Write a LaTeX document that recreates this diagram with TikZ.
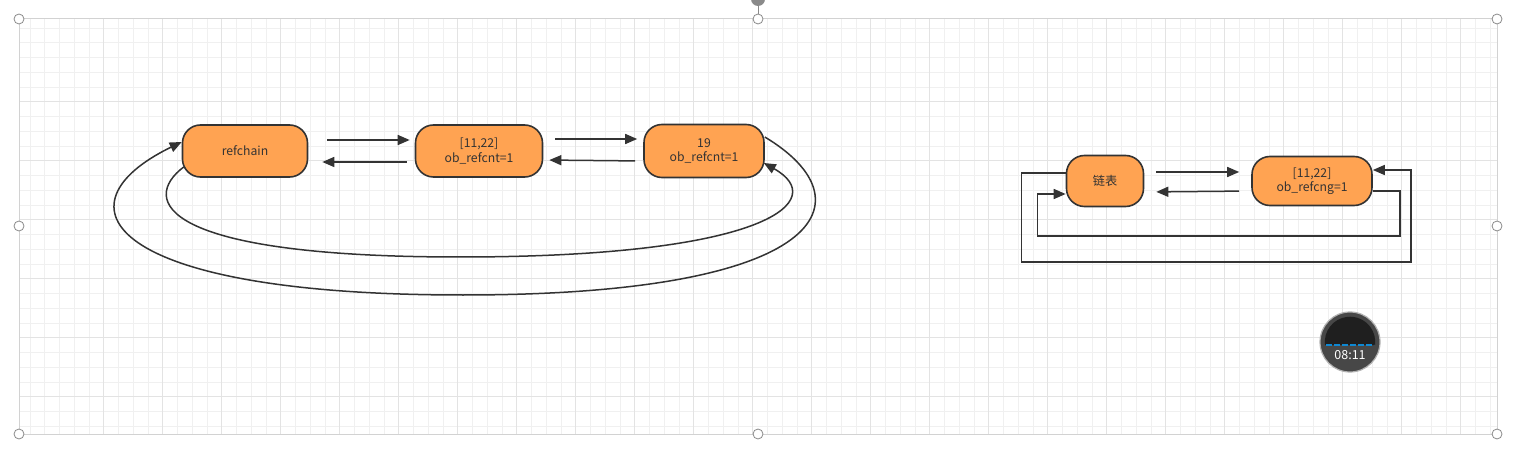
\documentclass[tikz,border=0pt]{standalone}
\usepackage{fontspec}
\setmainfont{Noto Sans CJK SC}
\usetikzlibrary{arrows.meta,calc}
\definecolor{rcOrange}{HTML}{FFA352}
\definecolor{rcInk}{HTML}{333333}
\definecolor{rcGridMinor}{HTML}{F0F0F0}
\definecolor{rcGridMajor}{HTML}{E3E3E3}
\definecolor{rcFrame}{HTML}{D2D2D2}
\definecolor{rcHandle}{HTML}{8A8A8A}
\tikzset{
  % the orange list entries
  rc/box/.style={
    draw=rcInk, fill=rcOrange, line width=1.6pt, rounded corners=18pt,
    inner sep=0pt, align=center, text=rcInk,
    font=\fontsize{12.2}{14.5}\selectfont
  },
  % straight and bent pointers
  rc/arrow/.style={
    -{Triangle[length=12pt,width=10pt]}, draw=rcInk, line width=1.5pt
  },
  % editor selection handles
  rc/handle/.style={draw=rcHandle, fill=white, line width=0.8pt},
}

\begin{document}
\begin{tikzpicture}[x=1pt,y=-1pt]
  \useasboundingbox (0,0) rectangle (1514,454);
  \clip (0,0) rectangle (1514,454);
  \fill[white] (0,0) rectangle (1514,454);

  % canvas grid
  \foreach \i in {0,...,99}{
    \pgfmathsetmacro{\gx}{30+\i*14.75}
    \ifdim\gx pt<1497pt
      \draw[rcGridMinor, line width=0.8pt] (\gx,19) -- (\gx,434);
    \fi}
  \foreach \j in {0,...,27}{
    \pgfmathsetmacro{\gy}{28+\j*14.75}
    \ifdim\gy pt<434pt
      \draw[rcGridMinor, line width=0.8pt] (19,\gy) -- (1497,\gy);
    \fi}
  \foreach \i in {0,...,24}{
    \pgfmathsetmacro{\gx}{103.75+\i*59}
    \ifdim\gx pt<1497pt
      \draw[rcGridMajor, line width=1pt] (\gx,19) -- (\gx,434);
    \fi}
  \foreach \j in {0,...,6}{
    \pgfmathsetmacro{\gy}{101.75+\j*59}
    \ifdim\gy pt<434pt
      \draw[rcGridMajor, line width=1pt] (19,\gy) -- (1497,\gy);
    \fi}
  \draw[rcFrame, line width=1pt] (19,19) rectangle (1497,434);

  % selection handles
  \fill[rcHandle] (758,-1) circle (7);
  \draw[rcHandle, line width=0.8pt] (758,5) -- (758,14);
  \foreach \hx/\hy in {19/19,758/19,1497/19,19/226,1497/226,19/434,758/434,1497/434}{
    \draw[rc/handle] (\hx,\hy) circle (5);}

  % left: doubly linked refchain
  \node[rc/box, minimum width=125pt, minimum height=52pt] (refchain) at (245,151) {refchain};
  \node[rc/box, minimum width=127pt, minimum height=52pt] (objA) at (479,151) {[11,22]\\ob\_refcnt=1};
  \node[rc/box, minimum width=120pt, minimum height=53pt] (objB) at (704,151) {19\\ob\_refcnt=1};

  \draw[rc/arrow, shorten <=19pt, shorten >=5pt] ([yshift=11pt]refchain.east) -- ([yshift=11pt]objA.west);
  \draw[rc/arrow, shorten <=8pt, shorten >=14pt] ([yshift=-11pt]objA.west) -- ([yshift=-11pt]refchain.east);
  \draw[rc/arrow, shorten <=12pt, shorten >=6pt] ([yshift=12pt]objA.east) -- ([yshift=12pt]objB.west);
  \draw[rc/arrow, shorten <=8pt, shorten >=6pt] ([yshift=-10pt]objB.west) -- ([yshift=-9pt]objA.east);

  \draw[rc/arrow] ($(refchain.west)+(2,16)$)
    .. controls (140,200) and (160,257) .. (460,257)
    .. controls (770,257) and (830,200) .. ($(objB.east)+(-1,12)$);
  \draw[rc/arrow] ($(objB.east)+(0,-14)$)
    .. controls (870,200) and (830,295) .. (463,295)
    .. controls (105,295) and (52,205) .. ($(refchain.west)+(0,-9)$);

  % right: the same chain with two entries
  \node[rc/box, minimum width=77pt, minimum height=51pt] (chain) at (1105,181) {链表};
  \node[rc/box, minimum width=120pt, minimum height=49pt] (objC) at (1312,181) {[11,22]\\ob\_refcng=1};

  \draw[rc/arrow, shorten <=12pt, shorten >=12pt] ([yshift=9pt]chain.east) -- ([yshift=9pt]objC.west);
  \draw[rc/arrow, shorten <=12pt, shorten >=12pt] ([yshift=-10pt]objC.west) -- ([yshift=-11pt]chain.east);
  \draw[rc/arrow] ([yshift=8pt]chain.west) -- ++(-44,0) -- ++(0,89)
    -| ([yshift=11pt,xshift=38pt]objC.east) -- ([yshift=11pt]objC.east);
  \draw[rc/arrow] ([yshift=-10pt]objC.east) -- ++(27,0) -- ++(0,45)
    -| ([yshift=-13pt,xshift=-28pt]chain.west) -- ([yshift=-13pt]chain.west);

  % recorder timer overlay
  \node[circle, minimum size=60pt, fill=black!72, draw=gray!60, line width=1.2pt] (timer) at (1350,342) {};
  \fill[black!88] ($(timer.center)+(-25,3)$) arc[start angle=173, end angle=367, radius=25.2] -- cycle;
  \draw[cyan!70!blue, line width=1.2pt, dash pattern=on 6pt off 2pt] ($(timer.center)+(-24,3)$) -- ($(timer.center)+(24,3)$);
  \node[text=white, font=\fontsize{12.5}{14}\selectfont, inner sep=0pt] (clock) at ($(timer.center)+(0,13)$) {08:11};
\end{tikzpicture}
\end{document}
